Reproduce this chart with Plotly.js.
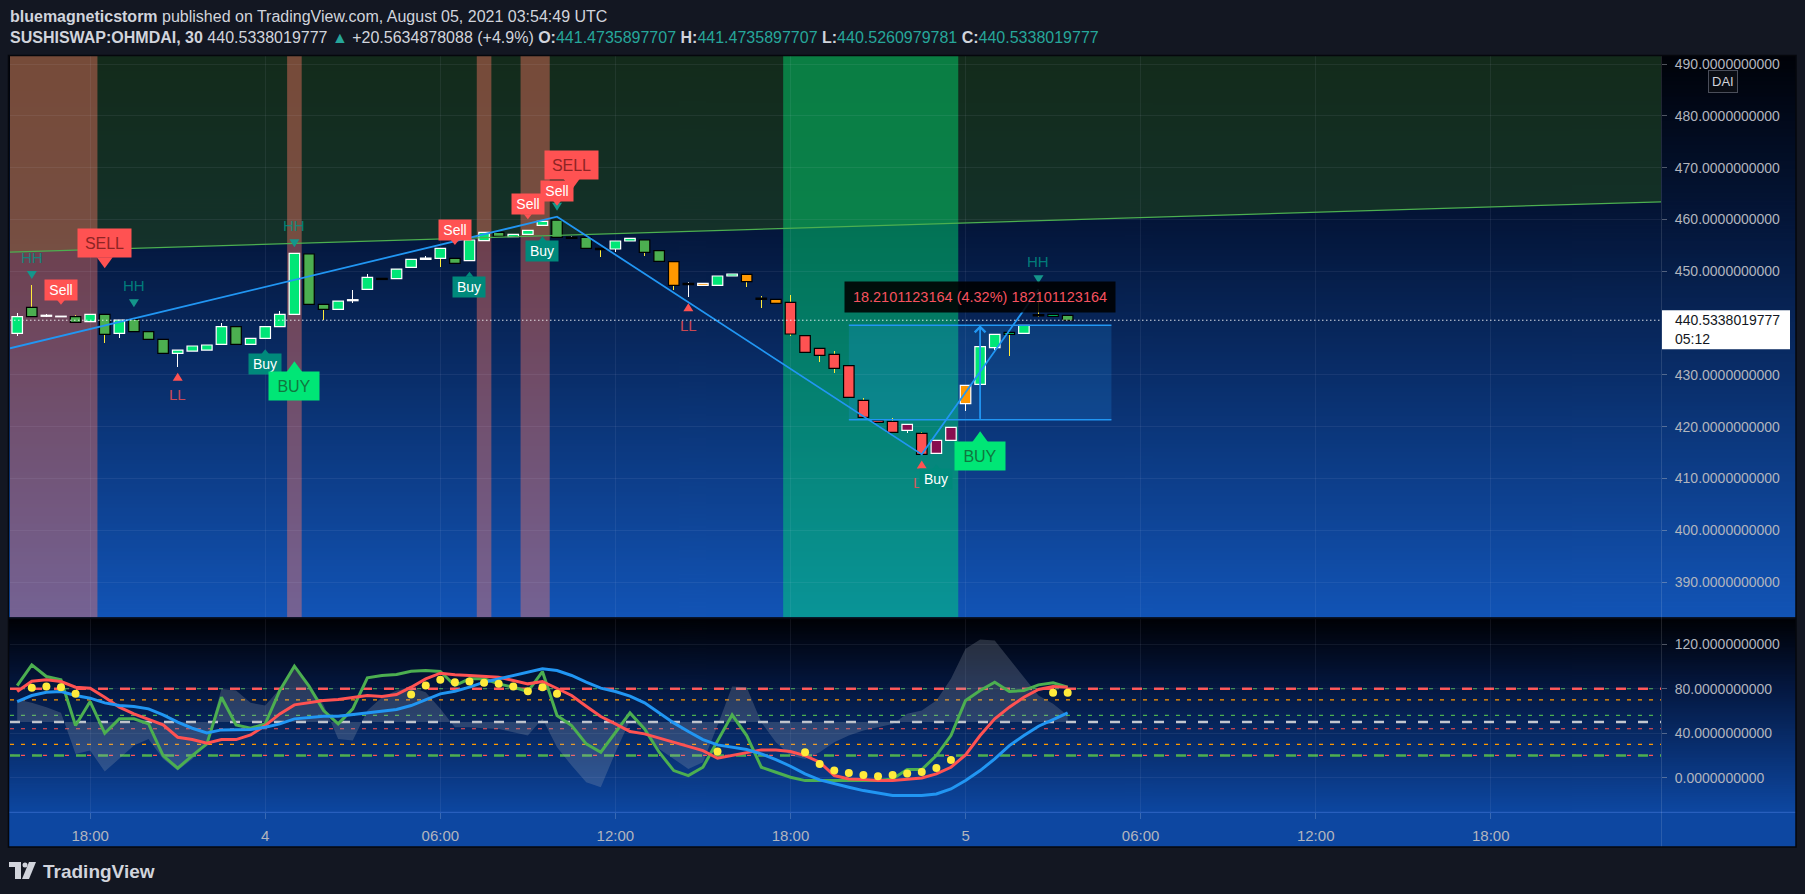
<!DOCTYPE html>
<html>
<head>
<meta charset="utf-8">
<script src="https://cdn.plot.ly/plotly-3.0.1.min.js"></script>
<style>
html,body{margin:0;padding:0;background:#131722;overflow:hidden;}
#chart{width:1805px;height:894px;}
</style>
</head>
<body>
<div id="chart"></div>
<script>
// ================= DATA =================
const firstBarTime = '2021-08-03 15:30';
const barMinutes = 30;
const xRange = ['2021-08-03 15:15:12', '2021-08-05 23:50:00'];

const openPrices = [438.00,441.22,441.30,441.20,440.13,440.26,437.81,438.00,438.32,436.84,
 434.14,434.14,434.59,434.78,435.88,435.88,435.88,437.04,439.29,441.67,
 443.60,442.64,442.64,444.30,446.50,448.62,448.56,450.74,452.29,452.48,
 451.52,452.03,455.89,456.73,456.67,457.11,458.85,456.54,456.60,454.42,
 454.42,454.29,455.83,453.64,451.91,451.84,447.66,447.66,447.27,449.07,
 449.40,444.83,444.57,443.99,437.55,435.11,433.95,431.76,425.07,421.21,
 421.02,420.44,418.70,417.35,419.86,427.96,428.16,435.24,437.81,438.00,
 441.60,441.28,441.4735897707];
const highPrices = [441.87,447.33,441.66,441.40,441.48,441.67,441.67,440.58,441.87,438.32,
 436.84,434.78,435.56,435.75,439.93,439.61,437.04,439.29,442.31,453.45,
 453.58,443.60,444.24,446.37,449.46,450.42,450.42,452.29,452.94,454.41,
 452.94,456.02,457.50,457.50,457.11,457.89,459.63,460.53,456.80,456.54,
 454.42,455.83,456.35,456.02,453.97,451.84,447.85,447.66,449.07,449.78,
 449.40,445.28,445.08,445.40,438.20,435.11,434.59,432.21,425.45,421.92,
 421.60,420.44,418.96,417.35,419.86,427.96,435.43,437.81,438.20,441.48,
 446.50,441.67,441.4735897707];
const lowPrices = [437.49,441.22,441.16,441.15,440.13,440.26,436.20,437.04,438.13,436.84,
 432.98,431.57,434.59,434.78,435.88,435.11,435.88,437.04,439.29,441.67,
 443.60,440.58,442.64,443.79,446.50,448.40,448.56,450.74,452.29,450.74,
 451.52,452.03,455.89,456.54,456.67,457.11,458.85,455.38,456.35,454.42,
 452.80,453.64,455.83,452.94,451.91,446.37,444.96,447.27,447.27,449.07,
 447.02,442.83,443.03,437.56,434.33,432.53,430.41,424.81,421.79,419.34,
 418.89,418.82,414.64,414.84,416.77,423.07,428.16,434.80,433.63,438.00,
 441.22,441.28,440.5260979781];
const closePrices = [441.22,443.02,441.50,441.32,441.22,441.67,441.67,440.58,440.71,438.32,
 436.84,434.78,435.56,435.75,439.29,439.29,437.04,439.29,441.67,453.45,
 453.32,443.60,444.24,444.50,448.81,448.40,450.42,452.29,452.55,454.41,
 452.48,456.02,457.50,457.50,457.11,457.89,459.63,459.88,456.35,456.54,
 454.16,455.83,456.35,456.02,453.97,447.27,447.40,447.27,449.07,449.46,
 447.98,444.57,443.80,437.88,434.33,433.76,431.25,425.65,421.79,420.82,
 418.89,419.28,414.64,414.84,417.35,424.43,435.43,437.81,438.20,439.55,
 441.35,441.67,440.5338019777];
// candle colour state of the indicator, per bar
const bodyStyleCodes = ['bg','dg','wt','wt','dg','bg','dg','bg','dg','dg',
 'dg','bg','bg','bg','bg','dg','bg','bg','bg','bg',
 'dg','dg','bg','wt','bg','bk','bg','bg','wt','bg',
 'dg','bg','bg','dg','bg','bg','bg','dg','bk','dg',
 'bk','bg','bg','dg','dg','ok','bk','ow','bg','bg',
 'ok','bk','ok','rd','rd','rd','rd','rd','rd','rd',
 'rd','mr','rd','mr','mr','ow','bg','bg','gk','bg',
 'bk','gk','dg'];
const wickStyleCodes = ['w','y','w','w','y','w','y','w','y','y',
 'y','w','w','w','w','y','w','w','w','w',
 'y','y','w','w','w','y','w','w','w','y',
 'y','w','w','y','w','w','w','y','w','y',
 'y','w','w','y','y','y','w','w','w','w',
 'y','y','y','y','y','y','y','y','y','y',
 'y','w','y','w','w','w','w','w','y','w',
 'y','y','y'];

// oscillator pane
const oscGreen = [82.9,101.5,91,88,46.9,68.5,40,52.9,52.9,48.4,
 19.9,8.5,19.9,30.4,72.4,47.5,44.5,48.4,78.4,100.3,
 82.3,60.4,48.4,61.9,89.8,91.9,92.8,95.8,96.4,95.5,
 82.9,88.9,88.9,84.4,81.4,77.5,95.5,55.9,46.9,30.4,
 22.9,40.9,58.3,43.9,22.9,6.4,1.9,9.4,33.4,56.5,
 37.9,9.4,4.9,0.4,-2.6,-2.6,-3.2,-3.2,-3.2,-2.6,
 -1.1,7.3,7.3,19.9,37.9,69.4,78.4,85.9,77.5,78.4,
 83.5,85.3,81.4];
const oscRed = [77.5,86.8,88,86.5,81.4,80.5,72.4,63.4,57.4,52.3,
 47.5,36.4,34.3,31,34.3,34.3,38.5,46.9,57.4,65.5,
 67.3,69.4,70.3,72.4,73.9,73,74.8,81.4,88.9,94,
 92.5,91.9,91.3,90.4,87.4,84.4,86.5,80.5,73.9,64.3,
 55,48.4,41.5,39.4,35.5,31.9,28.3,24.4,17.5,19.9,
 22.9,25,25,23.5,19.9,13.9,1.9,-1.1,-1.7,-2.6,
 -2.6,-1.1,-0.2,3.4,9.4,20.5,37.9,52.9,63.4,72.4,
 79.3,82,81.4];
const oscBlue = [68.5,73.9,76.9,77.5,73.9,71.5,67.3,64.9,64,61.9,
 56.5,49.9,44.5,40.3,43,43.3,43.3,45.4,48.4,52.9,
 54.4,55.3,55.3,56.8,58.9,60.4,61.3,64.9,70.3,75.4,
 77.8,81.4,85.9,88.9,91.9,94.9,97.9,96.4,91.9,85.9,
 80.5,77.5,73.3,67.3,58.3,49.3,41.5,34.3,29.5,27.4,
 25.3,21.4,16.3,10.3,3.4,-2,-5.6,-8.6,-11.6,-14,
 -16.1,-16.1,-16.1,-14.6,-10.1,-2.6,6.4,16.9,28.9,37.9,
 46.3,52.3,58.3];
const oscGray = [70.3,67.3,63.4,58.3,21.4,24.4,5.5,16.9,28.9,34.9,
 16.9,6.4,16.9,31.9,79.9,78.4,67.3,64.9,79.9,97.9,
 81.4,65.5,34.9,33.4,60.4,72.4,78.4,81.4,76.9,61.9,
 45.4,45.4,44.5,43.9,40.9,37.9,52.9,27.4,10.9,-4.1,
 -8.6,22.6,51.4,43.9,25.9,16.9,7.9,13.9,46.9,82,
 81.4,49.9,31.9,19.9,16.9,22.9,31.9,37.9,42.4,45.4,
 48.4,57.4,60.4,69.4,88.9,115.9,124.3,123.4,106.9,90.4,
 73.9,66.4,55.9];
const oscMid = 50;
const dotBars = [1,2,3,4,27,28,29,30,31,32,33,34,35,36,37,48,54,55,56,57,58,59,60,61,62,63,64,71,72];
const dotValues = [80.8,82,81.4,75.4,74.8,82.9,88,85.9,86.5,85.3,84.4,82,77.8,81.4,75.4,23.5,22.9,12.4,6.4,4.3,2.5,1.3,2.5,3.7,5.2,8.8,16,76.3,76.3];
const oscLevels = [80, 70, 56, 50, 44, 30, 20];

// drawings on the price pane
const trendTimes = ['2021-08-03 15:15:12', '2021-08-05 23:50:00'];
const trendPrices = [453.7, 463.4];
const zigzagTimes = ['2021-08-03 15:15:12','2021-08-04 10:00','2021-08-04 22:30','2021-08-05 02:30'];
const zigzagPrices = [435.12, 460.53, 414.64, 446.50];
const bandStarts = ['2021-08-03 15:15:12','2021-08-04 00:45','2021-08-04 07:15','2021-08-04 08:45','2021-08-04 17:45'];
const bandEnds   = ['2021-08-03 18:15','2021-08-04 01:15','2021-08-04 07:45','2021-08-04 09:45','2021-08-04 23:45'];
const bandKinds  = ['sell','sell','sell','sell','buy'];
const measureStart = '2021-08-04 20:00', measureEnd = '2021-08-05 05:00', measureMid = '2021-08-05 00:30';
const measureLow = 421.34, measureHigh = 439.55;
const measureText = '18.2101123164 (4.32%) 182101123164';

const hhBars = [1, 8, 19, 37, 70];
const llBars = [11, 46, 62];
const signalBars  = [3, 30, 35, 37, 6, 38, 17, 31, 36, 63, 19, 66];
const signalTypes = ['sell','sell','sell','sell','SELL','SELL','buy','buy','buy','buy','BUY','BUY'];

const priceTicks = [390,400,410,420,430,450,460,470,480,490];
const oscTicks = [0,40,80,120];
const timeTickVals = ['2021-08-03 18:00','2021-08-04 00:00','2021-08-04 06:00','2021-08-04 12:00','2021-08-04 18:00','2021-08-05 00:00','2021-08-05 06:00','2021-08-05 12:00','2021-08-05 18:00'];
const timeTickText = ['18:00','4','06:00','12:00','18:00','5','06:00','12:00','18:00'];
const lastPrice = 440.5338019777;
const lastPriceText = '440.5338019777';
const countdownText = '05:12';

// ================= BUILD =================
const W = 1805, H = 894;
const px = x => x / W;
const py = y => 1 - y / H;
const BAR_MS = barMinutes * 60000;
const toMs = s => Date.parse(s.replace(' ', 'T') + (s.length === 16 ? ':00Z' : 'Z'));
const t0 = toMs(firstBarTime);
const fmt = ms => new Date(ms).toISOString().slice(0, 19).replace('T', ' ');
const barTimes = openPrices.map((_, i) => fmt(t0 + i * BAR_MS));
const FONT = "'Liberation Sans', Arial, sans-serif";
const Y_MAIN = [383.15, 491.544];

function grad(stops, h) {
  const c = document.createElement('canvas'); c.width = 4; c.height = h;
  const g = c.getContext('2d'); const gr = g.createLinearGradient(0, 0, 0, h);
  stops.forEach(s => gr.addColorStop(s[0], s[1]));
  g.fillStyle = gr; g.fillRect(0, 0, 4, h); return c.toDataURL();
}

const traces = [];
const P = {xaxis: 'x', yaxis: 'y', hoverinfo: 'skip', showlegend: false};
const O = {xaxis: 'x2', yaxis: 'y2', hoverinfo: 'skip', showlegend: false};
const shapes = [];

// ---- background drawings (shapes under the candles) ----
shapes.push({type: 'path', xref: 'x', yref: 'y', layer: 'below', fillcolor: 'rgba(27,60,34,0.72)', line: {width: 0},
  path: 'M' + toMs(trendTimes[0]) + ',' + trendPrices[0] + ' L' + toMs(trendTimes[1]) + ',' + trendPrices[1] +
        ' L' + toMs(trendTimes[1]) + ',' + Y_MAIN[1] + ' L' + toMs(trendTimes[0]) + ',' + Y_MAIN[1] + ' Z'});
bandStarts.forEach((s, k) => {
  shapes.push({type: 'rect', xref: 'x', yref: 'y', layer: 'below', x0: s, x1: bandEnds[k], y0: Y_MAIN[0], y1: Y_MAIN[1],
    fillcolor: bandKinds[k] === 'sell' ? 'rgba(255,120,100,0.42)' : 'rgba(0,225,115,0.46)', line: {width: 0}});
});
shapes.push({type: 'rect', xref: 'x', yref: 'y', layer: 'below', x0: measureStart, x1: measureEnd, y0: measureLow, y1: measureHigh,
  fillcolor: 'rgba(33,150,243,0.2)', line: {width: 0}});

// ---- candles: wicks then bodies, both as bars (overlay) ----
const WICK = {y: '#ffeb3b', w: '#ffffff'};
traces.push(Object.assign({type: 'bar', x: barTimes, base: lowPrices,
  y: barTimes.map((_, i) => highPrices[i] - lowPrices[i]), width: BAR_MS * 0.045,
  marker: {color: wickStyleCodes.map(c => WICK[c]), line: {width: 0}}}, P));
const BODY = {bg: ['#00e676', '#ffffff'], dg: ['#4caf50', '#000000'], gk: ['#00e676', '#000000'],
  rd: ['#ff5252', '#000000'], ok: ['#ff9800', '#000000'], ow: ['#ff9800', '#ffffff'],
  mr: ['#880e4f', '#ffffff'], wt: ['#ffffff', '#ffffff'], bk: ['#000000', '#000000']};
traces.push(Object.assign({type: 'bar', x: barTimes,
  base: barTimes.map((_, i) => Math.min(openPrices[i], closePrices[i])),
  y: barTimes.map((_, i) => Math.max(Math.abs(closePrices[i] - openPrices[i]), 0.12)),
  width: BAR_MS * 0.72,
  marker: {color: bodyStyleCodes.map(c => BODY[c][0]), line: {color: bodyStyleCodes.map(c => BODY[c][1]), width: 1.2}}}, P));

// ---- line drawings over candles ----
traces.push(Object.assign({type: 'scatter', mode: 'lines',
  x: [measureStart, measureEnd, null, measureStart, measureEnd], y: [measureHigh, measureHigh, null, measureLow, measureLow],
  line: {color: '#2196f3', width: 1.5}}, P));
traces.push(Object.assign({type: 'scatter', mode: 'lines',
  x: [measureMid, measureMid], y: [measureLow, measureHigh], line: {color: '#2196f3', width: 1.5}}, P));
traces.push(Object.assign({type: 'scatter', mode: 'lines', x: trendTimes, y: trendPrices,
  line: {color: '#4caf50', width: 1.3}}, P));
traces.push(Object.assign({type: 'scatter', mode: 'lines', x: zigzagTimes, y: zigzagPrices,
  line: {color: '#2196f3', width: 1.8}}, P));
traces.push(Object.assign({type: 'scatter', mode: 'lines', x: xRange, y: [lastPrice, lastPrice],
  line: {color: 'rgba(255,255,255,0.85)', width: 1, dash: '1.5px,2.5px'}}, P));

// ---- oscillator pane ----
traces.push(Object.assign({type: 'scatter', mode: 'lines', x: barTimes, y: barTimes.map(() => oscMid), line: {width: 0}}, O));
traces.push(Object.assign({type: 'scatter', mode: 'lines', x: barTimes, y: oscGray, fill: 'tonexty',
  fillcolor: 'rgba(165,170,185,0.24)', line: {width: 0}}, O));
traces.push(Object.assign({type: 'scatter', mode: 'lines', x: barTimes, y: oscGreen, line: {color: '#4caf50', width: 3}}, O));
traces.push(Object.assign({type: 'scatter', mode: 'lines', x: barTimes, y: oscRed, line: {color: '#ff5252', width: 3}}, O));
traces.push(Object.assign({type: 'scatter', mode: 'lines', x: barTimes, y: oscBlue, line: {color: '#2196f3', width: 3}}, O));
traces.push(Object.assign({type: 'scatter', mode: 'markers', x: dotBars.map(i => barTimes[i]), y: dotValues,
  marker: {color: '#ffeb3b', size: 8, line: {width: 0}}}, O));

// ---------- other shapes ----------
shapes.push({type: 'rect', xref: 'paper', yref: 'paper', x0: px(8), x1: px(1796), y0: py(847), y1: py(812),
  fillcolor: '#0d47a1', line: {width: 0}, layer: 'below'});
const LEVEL_STYLE = {
  80: [['#4caf50', '4px,7px', 1.2], ['#ff5252', '10px,12px', 2.5]],
  70: [['#ff9800', '4px,7px', 1.2]],
  56: [['#4caf50', '4px,7px', 1.2]],
  50: [['#c3c7cf', '10px,12px', 2.5]],
  44: [['#ff5252', '4px,7px', 1.2]],
  30: [['#ff9800', '4px,7px', 1.2]],
  20: [['#ff5252', '4px,7px', 1.2], ['#4caf50', '10px,12px', 2.5]]
};
oscLevels.forEach(v => {
  LEVEL_STYLE[v].forEach(s => shapes.push({type: 'line', xref: 'paper', yref: 'y2', x0: px(10), x1: px(1661), y0: v, y1: v,
    line: {color: s[0], dash: s[1], width: s[2]}, layer: 'below'}));
});
shapes.push({type: 'line', xref: 'paper', yref: 'paper', x0: px(8), x1: px(1796), y0: py(618.3), y1: py(618.3), line: {color: '#060a14', width: 2}, layer: 'above'});
shapes.push({type: 'line', xref: 'paper', yref: 'paper', x0: px(8), x1: px(1796), y0: py(812.3), y1: py(812.3), line: {color: 'rgba(90,140,240,0.45)', width: 1}, layer: 'above'});
shapes.push({type: 'line', xref: 'paper', yref: 'paper', x0: px(1661.5), x1: px(1661.5), y0: py(847), y1: py(56), line: {color: 'rgba(255,255,255,0.12)', width: 1}, layer: 'above'});
shapes.push({type: 'rect', xref: 'paper', yref: 'paper', x0: px(8.5), x1: px(1796), y0: py(847), y1: py(55.5), line: {color: '#05070c', width: 1.5}, layer: 'above'});
shapes.push({type: 'rect', xref: 'paper', yref: 'y', ysizemode: 'pixel', yanchor: lastPrice, x0: px(1662), x1: px(1790), y0: -29, y1: 10,
  fillcolor: '#ffffff', line: {width: 0}, layer: 'above'});
function tri(time, price, path, color) {
  shapes.push({type: 'path', xref: 'x', yref: 'y', xsizemode: 'pixel', ysizemode: 'pixel', xanchor: time, yanchor: price,
    path: path, fillcolor: color, line: {width: 0}, layer: 'above'});
}
hhBars.forEach(i => tri(barTimes[i], highPrices[i], 'M-5,14 L5,14 L0,6 Z', '#14968b'));
llBars.forEach(i => tri(barTimes[i], lowPrices[i], 'M-5,-14 L5,-14 L0,-6 Z', '#ff5252'));

// ---------- annotations ----------
const ann = [];
hhBars.forEach(i => ann.push({x: barTimes[i], y: highPrices[i], xref: 'x', yref: 'y', yshift: 28, showarrow: false,
  text: 'HH', font: {family: FONT, size: 15, color: 'rgba(0,150,136,0.8)'}}));
llBars.forEach(i => ann.push({x: barTimes[i], y: lowPrices[i], xref: 'x', yref: 'y', yshift: -28, showarrow: false,
  text: 'LL', font: {family: FONT, size: 15, color: 'rgba(255,82,82,0.8)'}}));
const SIG = {
  sell: {text: 'Sell', bg: '#ff5252', fc: '#ffffff', fs: 14, w: 32, h: 20, up: true, box: 15, path: 'M-4,16 L4,16 L0,11 Z'},
  SELL: {text: 'SELL', bg: '#ff5252', fc: '#8e2424', fs: 16, w: 53, h: 28, up: true, box: 56, path: 'M-8,57 L8,57 L0,46 Z'},
  buy:  {text: 'Buy', bg: '#00897b', fc: '#ffffff', fs: 14, w: 32, h: 20, up: false, box: 15, path: 'M-4,-16 L4,-16 L0,-11 Z'},
  BUY:  {text: 'BUY', bg: '#00e676', fc: '#10773f', fs: 16, w: 50, h: 28, up: false, box: 57, path: 'M-8,-58 L8,-58 L0,-47 Z'}
};
signalBars.forEach((i, k) => {
  const s = SIG[signalTypes[k]];
  const yv = s.up ? highPrices[i] : lowPrices[i];
  tri(barTimes[i], yv, s.path, s.bg);
  ann.push({x: barTimes[i], y: yv, xref: 'x', yref: 'y', showarrow: false, text: s.text,
    yanchor: s.up ? 'bottom' : 'top', yshift: s.up ? s.box : -s.box,
    width: s.w, height: s.h, bgcolor: s.bg, borderpad: 0, font: {family: FONT, size: s.fs, color: s.fc}});
});
ann.push({x: measureMid, y: measureHigh, xref: 'x', yref: 'y', ax: measureMid, ay: measureLow, axref: 'x', ayref: 'y',
  showarrow: true, arrowhead: 4, arrowsize: 1.6, arrowwidth: 1.3, arrowcolor: '#2196f3', text: ''});
ann.push({x: measureMid, y: measureHigh, xref: 'x', yref: 'y', showarrow: false, yanchor: 'bottom', yshift: 12,
  text: measureText, width: 270, height: 30, bgcolor: 'rgba(0,0,0,0.88)', borderpad: 0,
  font: {family: FONT, size: 14.5, color: '#f7525f'}});
ann.push({xref: 'paper', yref: 'y', x: px(1673), y: lastPrice, xanchor: 'left', yanchor: 'middle', showarrow: false,
  text: lastPriceText, font: {family: FONT, size: 14, color: '#131722'}});
ann.push({xref: 'paper', yref: 'y', x: px(1673), y: lastPrice, yshift: -19, xanchor: 'left', yanchor: 'middle', showarrow: false,
  text: countdownText, font: {family: FONT, size: 14, color: '#131722'}});
ann.push({xref: 'paper', yref: 'paper', x: px(1738), y: py(70), showarrow: false, text: 'DAI',
  bgcolor: '#0a0d14', bordercolor: '#4a4e5a', borderwidth: 1, borderpad: 3, font: {family: FONT, size: 13, color: '#d1d4dc'}});
const teal = s => '<span style="color:#26a69a">' + s + '</span>';
ann.push({xref: 'paper', yref: 'paper', x: px(8), y: py(16), xanchor: 'left', yanchor: 'middle', showarrow: false,
  text: '<b>bluemagneticstorm</b> published on TradingView.com, August 05, 2021 03:54:49 UTC',
  font: {family: FONT, size: 16, color: '#d1d4dc'}});
ann.push({xref: 'paper', yref: 'paper', x: px(8), y: py(38), xanchor: 'left', yanchor: 'middle', showarrow: false,
  text: '<b>SUSHISWAP:OHMDAI, 30</b> 440.5338019777 ' + teal('▲') + ' +20.5634878088 (+4.9%) <b>O:</b>' + teal('441.4735897707') +
    ' <b>H:</b>' + teal('441.4735897707') + ' <b>L:</b>' + teal('440.5260979781') + ' <b>C:</b>' + teal('440.5338019777'),
  font: {family: FONT, size: 16, color: '#d1d4dc'}});
ann.push({xref: 'paper', yref: 'paper', x: px(41), y: py(871), xanchor: 'left', yanchor: 'middle', showarrow: false,
  text: '<b>TradingView</b>', font: {family: FONT, size: 19, color: '#d1d4dc'}});
shapes.push({type: 'path', xref: 'paper', yref: 'paper', fillcolor: '#d1d4dc', line: {width: 0},
  path: 'M' + px(9) + ',' + py(862) + ' L' + px(21) + ',' + py(862) + ' L' + px(21) + ',' + py(879) + ' L' + px(15) + ',' + py(879) +
        ' L' + px(15) + ',' + py(867) + ' L' + px(9) + ',' + py(867) + ' Z'});
shapes.push({type: 'circle', xref: 'paper', yref: 'paper', fillcolor: '#d1d4dc', line: {width: 0},
  x0: px(22.5), x1: px(27.5), y0: py(867.5), y1: py(862.5)});
shapes.push({type: 'path', xref: 'paper', yref: 'paper', fillcolor: '#d1d4dc', line: {width: 0},
  path: 'M' + px(29) + ',' + py(862) + ' L' + px(36) + ',' + py(862) + ' L' + px(29) + ',' + py(879) + ' L' + px(22) + ',' + py(879) + ' Z'});

// ---------- layout ----------
const mainTop = 56, mainBot = 617.5, oscTop = 619, oscBot = 812;
const images = [
  {source: grad([[0, '#000208'], [0.3, '#04163a'], [1, '#1254b6']], 280), xref: 'paper', yref: 'paper',
   x: px(8), y: py(mainTop), sizex: px(1796) - px(8), sizey: (mainBot - mainTop) / H, sizing: 'stretch', xanchor: 'left', yanchor: 'top', layer: 'below'},
  {source: grad([[0, '#000105'], [0.35, '#04173f'], [1, '#0d47a1']], 200), xref: 'paper', yref: 'paper',
   x: px(8), y: py(oscTop), sizex: px(1796) - px(8), sizey: (oscBot - oscTop) / H, sizing: 'stretch', xanchor: 'left', yanchor: 'top', layer: 'below'}
];
const GRID = 'rgba(220,230,255,0.07)';
const axisFont = {family: FONT, size: 14, color: '#b2b5be'};
const layout = {
  width: W, height: H, margin: {l: 0, r: 0, t: 0, b: 0},
  paper_bgcolor: '#131722', plot_bgcolor: 'rgba(0,0,0,0)', showlegend: false,
  font: {family: FONT}, barmode: 'overlay', bargap: 0, images: images, shapes: shapes, annotations: ann,
  xaxis: {type: 'date', domain: [px(10), px(1661)], range: xRange, anchor: 'y', showticklabels: false,
    tickvals: timeTickVals, showgrid: true, gridcolor: GRID, zeroline: false, showline: false, ticks: '', fixedrange: true},
  xaxis2: {type: 'date', domain: [px(10), px(1661)], range: xRange, matches: 'x', anchor: 'y2',
    tickvals: timeTickVals, ticktext: timeTickText, tickfont: {family: FONT, size: 15, color: '#b2b5be'},
    ticks: 'outside', ticklen: 6, tickcolor: 'rgba(255,255,255,0.18)', ticklabelstandoff: 4,
    showgrid: true, gridcolor: GRID, zeroline: false, showline: false, fixedrange: true},
  yaxis: {domain: [py(mainBot), py(mainTop)], range: Y_MAIN, side: 'right', anchor: 'x',
    tickvals: priceTicks, tickformat: '.10f', tickfont: axisFont, ticks: 'outside', ticklen: 5,
    tickcolor: 'rgba(178,181,190,0.45)', ticklabelstandoff: 5, showgrid: true, gridcolor: GRID, zeroline: false, showline: false, fixedrange: true},
  yaxis2: {domain: [py(oscBot), py(oscTop)], range: [-30.85, 142.72], side: 'right', anchor: 'x2',
    tickvals: oscTicks, tickformat: '.10f', tickfont: axisFont, ticks: 'outside', ticklen: 5,
    tickcolor: 'rgba(178,181,190,0.45)', ticklabelstandoff: 5, showgrid: true, gridcolor: GRID, zeroline: false, showline: false, fixedrange: true}
};
Plotly.newPlot('chart', traces, layout, {displayModeBar: false, staticPlot: true});
</script>
</body>
</html>
